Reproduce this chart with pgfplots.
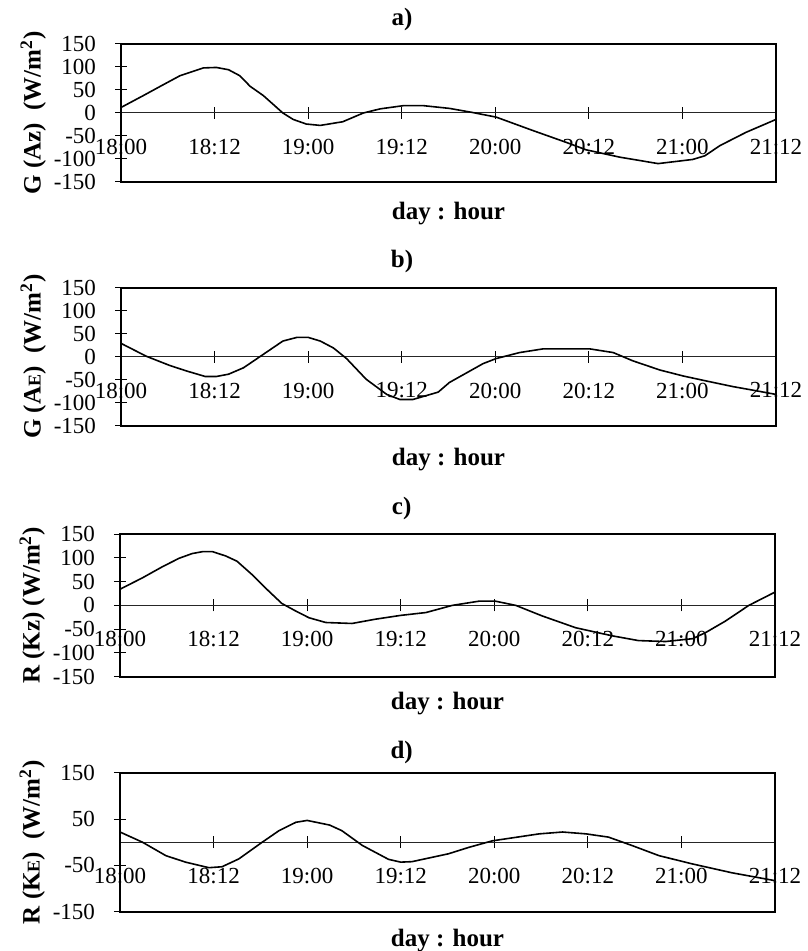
\documentclass[border=0pt]{standalone}
\usepackage{fontspec}
\setmainfont{Liberation Serif}
\usepackage{pgfplots}
\pgfplotsset{compat=1.18}

\pgfplotsset{
  panel/.style={
    scale only axis, width=327.5pt,
    xmin=0, xmax=7, ymin=-150, ymax=150,
    axis x line*=middle, axis y line*=left,
    tick align=center, major tick length=6pt,
    hide obscured x ticks=false, hide obscured y ticks=false,
    xtick={0,...,7},
    xticklabels={18:00,18:12,19:00,19:12,20:00,20:12,21:00,21:12},
    ytick={-150,-100,...,150},
    /pgf/number format/assume math mode=true,
    tick label style={font=\fontsize{11.5}{13}\selectfont},
    xticklabel style={yshift=-6.5pt},
    yticklabel style={xshift=-6pt},
    every tick/.style={black, line width=0.5pt},
    x axis line style={black!85, line width=0.5pt},
    y axis line style={black, line width=1pt},
    label style={font=\fontsize{12.5}{14}\selectfont\bfseries},
    title style={font=\fontsize{12.5}{14}\selectfont\bfseries, anchor=center},
    xlabel={day : hour},
    xlabel style={at={(axis description cs:0.5,0)}, anchor=center},
    ylabel style={at={(axis description cs:-0.134,0.5)}, anchor=center},
    clip=false,
  },
  curve/.style={black, line width=0.8pt, no markers},
}
\newcommand{\smallE}{{\fontsize{9}{10}\selectfont E}}

\begin{document}
\begin{tikzpicture}
\path[use as bounding box] (0,0) rectangle (403.5pt,-475.5pt);

% a)
\begin{axis}[panel, at={(60.5pt,-91pt)}, anchor=south west, height=69pt,
  title={a)}, title style={at={(axis description cs:0.429,1)}, yshift=6.5pt},
  xlabel style={yshift=-16pt},
  ylabel={G (Az)\ \ (W/m\textsuperscript{2})}]
\addplot[curve] coordinates {(0,12)(0.24,38)(0.42,58)(0.63,81)(0.88,98)(1.02,99)(1.15,94)(1.27,81)(1.38,58)(1.52,38)(1.73,0)(1.84,-14)(1.98,-24)(2.13,-27)(2.37,-19)(2.59,0)(2.77,9)(3.02,16)(3.23,16)(3.51,10)(3.76,1)(4.01,-9)(4.40,-38)(4.76,-64)(4.97,-80)(5.33,-96)(5.74,-110)(6.11,-101)(6.24,-93)(6.40,-71)(6.68,-42)(7,-14)};
\draw[line width=1pt] (rel axis cs:0,0) rectangle (rel axis cs:1,1);
\end{axis}

% b)
\begin{axis}[panel, at={(60.5pt,-212.85pt)}, anchor=south west, height=69pt,
  title={b)}, title style={at={(axis description cs:0.429,1)}, yshift=7pt},
  xlabel style={yshift=-17pt},
  ylabel={G (A\smallE)\ \ (W/m\textsuperscript{2})}]
\addplot[curve] coordinates {(0,29)(0.27,1)(0.52,-19)(0.70,-31)(0.90,-43)(1.02,-43)(1.15,-38)(1.31,-24)(1.52,5)(1.73,34)(1.88,42)(2.0,42)(2.13,34)(2.27,19)(2.41,-4)(2.62,-49)(2.84,-82)(2.98,-93)(3.12,-93)(3.39,-77)(3.51,-56)(3.87,-15)(4.01,-4)(4.26,9)(4.51,17)(5.01,17)(5.26,9)(5.47,-9)(5.76,-29)(6.01,-42)(6.26,-53)(6.54,-65)(6.76,-73)(7,-82)};
\draw[line width=1pt] (rel axis cs:0,0) rectangle (rel axis cs:1,1);
\end{axis}

% c)
\begin{axis}[panel, at={(60pt,-338.35pt)}, anchor=south west, height=71.3pt,
  title={c)}, title style={at={(axis description cs:0.43,1)}, yshift=7pt},
  xlabel style={yshift=-13.2pt},
  ylabel={R (Kz) (W/m\textsuperscript{2})}]
\addplot[curve] coordinates {(0,34)(0.24,58)(0.45,81)(0.63,99)(0.77,109)(0.88,113)(0.99,113)(1.13,104)(1.25,93)(1.41,65)(1.59,30)(1.73,4)(1.88,-12)(2.02,-26)(2.20,-36)(2.48,-38)(2.73,-29)(3.0,-21)(3.27,-15)(3.55,0)(3.84,9)(4.01,9)(4.23,0)(4.51,-22)(4.87,-47)(5.26,-64)(5.54,-74)(5.83,-76)(6.12,-70)(6.26,-57)(6.47,-33)(6.72,0)(7,28)};
\draw[line width=1pt] (rel axis cs:0,0) rectangle (rel axis cs:1,1);
\end{axis}

% d)
\begin{axis}[panel, at={(60pt,-455.85pt)}, anchor=south west, height=69.5pt,
  ytick={-150,-50,50,150},
  title={d)}, title style={at={(axis description cs:0.43,1)}, yshift=4pt},
  xlabel style={yshift=-14.3pt},
  ylabel={R (K\smallE)\ \ (W/m\textsuperscript{2})}]
\addplot[curve] coordinates {(0,22)(0.24,0)(0.49,-29)(0.70,-43)(0.95,-55)(1.09,-53)(1.27,-36)(1.52,0)(1.70,25)(1.88,43)(2.0,47)(2.24,37)(2.37,25)(2.59,-7)(2.87,-37)(3.0,-43)(3.12,-42)(3.51,-25)(3.73,-11)(3.98,3)(4.48,18)(4.73,22)(4.98,18)(5.22,11)(5.47,-7)(5.76,-29)(6.12,-47)(6.54,-66)(7,-83)};
\draw[line width=1pt] (rel axis cs:0,0) rectangle (rel axis cs:1,1);
\end{axis}
\end{tikzpicture}
\end{document}
